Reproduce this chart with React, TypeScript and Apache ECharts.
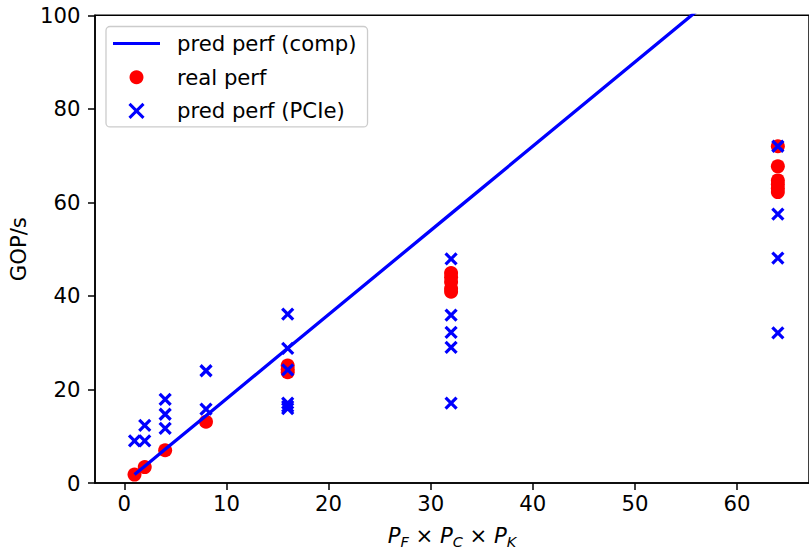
import React, { useEffect, useRef } from "react";
import * as echarts from "echarts";

// ---- data ----
const predCompX = [1, 2, 4, 8, 16, 32, 64];
const predCompY = [1.8, 3.6, 7.2, 14.4, 28.8, 57.6, 115.2];

const realX = [1, 2, 4, 8, 16, 16, 16, 32, 32, 32, 32, 32, 64, 64, 64, 64, 64, 64];
const realY = [1.8, 3.4, 7.0, 13.1, 25.1, 24.3, 23.7, 44.9, 44.0, 43.0, 41.6, 40.9, 72.0, 67.7, 64.7, 63.9, 63.0, 62.2];

const pcieX = [1, 2, 2, 4, 4, 4, 8, 8, 16, 16, 16, 16, 16, 16, 32, 32, 32, 32, 32, 64, 64, 64, 64];
const pcieY = [9.0, 12.3, 9.0, 17.9, 14.7, 11.7, 24.0, 15.8, 36.1, 28.8, 24.2, 17.1, 16.4, 15.9, 47.9, 35.9, 32.2, 29.0, 17.1, 72.0, 57.5, 48.1, 32.1];

const xTicks = [0, 10, 20, 30, 40, 50, 60];
const yTicks = [0, 20, 40, 60, 80, 100];

const seriesNames = ["pred perf (comp)", "real perf", "pred perf (PCIe)"];

const FONT = "DejaVu Sans";
const FS = 21.2;
const CROSS = "path://M0,0L10,10M10,0L0,10";

export default function App() {
  const ref = useRef<HTMLDivElement>(null);
  useEffect(() => {
    if (!ref.current) return;
    const chart = echarts.init(ref.current, undefined, { renderer: "svg" });
    const zip = (xs: number[], ys: number[]) => xs.map((x, i) => [x, ys[i]]);
    chart.setOption({
      animation: false,
      backgroundColor: "#ffffff",
      textStyle: { fontFamily: FONT },
      grid: {
        left: 95,
        top: 15.3,
        width: 714.5,
        height: 469,
        show: true,
        borderColor: "#000",
        borderWidth: 1.5,
        backgroundColor: "transparent",
      },
      legend: {
        orient: "vertical",
        left: 106,
        top: 26.5,
        padding: [6, 11, 5, 7],
        itemGap: 11.7,
        itemWidth: 47,
        itemHeight: 14,
        selectedMode: false,
        borderColor: "#cccccc",
        borderWidth: 1.3,
        borderRadius: 4,
        backgroundColor: "rgba(255,255,255,0.8)",
        textStyle: {
          fontFamily: FONT,
          fontSize: FS,
          color: "#000",
          lineHeight: 22,
          padding: [0, 0, 0, 12],
        },
        data: [
          { name: seriesNames[0], icon: "path://M0,0H47V3.2H0Z", itemStyle: { color: "#0000ff", borderWidth: 0 } },
          { name: seriesNames[1], icon: "circle", itemStyle: { color: "#ff0000", borderWidth: 0 } },
          {
            name: seriesNames[2],
            icon: CROSS,
            itemStyle: { color: "#0000ff", borderColor: "#0000ff", borderWidth: 3 },
          },
        ],
      },
      xAxis: {
        type: "value",
        min: -2.87,
        max: 67.05,
        name: "{i|P}{s|F}{n| × }{i|P}{s|C}{n| × }{i|P}{s|K}",
        nameLocation: "middle",
        nameGap: 39,
        nameTextStyle: {
          fontFamily: FONT,
          color: "#000",
          rich: {
            i: { fontFamily: FONT, fontSize: FS, fontStyle: "italic", color: "#000" },
            n: { fontFamily: FONT, fontSize: FS, color: "#000" },
            s: { fontFamily: FONT, fontSize: 14.5, fontStyle: "italic", color: "#000", padding: [12, 0, 0, 0] },
          },
        },
        axisLine: { show: true, onZero: false, lineStyle: { color: "#000", width: 1.5 } },
        axisTick: {
          show: true,
          inside: false,
          length: 7,
          customValues: xTicks,
          lineStyle: { color: "#000", width: 1.5 },
        },
        axisLabel: {
          customValues: xTicks,
          fontFamily: FONT,
          fontSize: FS,
          color: "#000",
          margin: 10,
        },
        splitLine: { show: false },
      },
      yAxis: {
        type: "value",
        min: 0,
        max: 100,
        interval: 20,
        name: "GOP/s",
        nameLocation: "middle",
        nameGap: 66,
        nameTextStyle: { fontFamily: FONT, fontSize: FS, color: "#000" },
        axisLine: { show: true, onZero: false, lineStyle: { color: "#000", width: 1.5 } },
        axisTick: {
          show: true,
          inside: false,
          length: 7,
          customValues: yTicks,
          lineStyle: { color: "#000", width: 1.5 },
        },
        axisLabel: {
          customValues: yTicks,
          fontFamily: FONT,
          fontSize: FS,
          color: "#000",
          margin: 14.5,
        },
        splitLine: { show: false },
      },
      series: [
        {
          name: seriesNames[1],
          type: "scatter",
          z: 2,
          symbol: "circle",
          symbolSize: 14,
          itemStyle: { color: "#ff0000", opacity: 1 },
          data: zip(realX, realY),
        },
        {
          name: seriesNames[2],
          type: "scatter",
          z: 3,
          symbol: CROSS,
          symbolSize: 11,
          itemStyle: { color: "#0000ff", borderColor: "#0000ff", borderWidth: 3.2, opacity: 1 },
          data: zip(pcieX, pcieY),
        },
        {
          name: seriesNames[0],
          type: "line",
          z: 4,
          showSymbol: false,
          symbol: "none",
          clip: true,
          lineStyle: { color: "#0000ff", width: 3.3 },
          itemStyle: { color: "#0000ff" },
          data: zip(predCompX, predCompY),
        },
      ],
    });
    return () => chart.dispose();
  }, []);
  return (
    <div
      ref={ref}
      style={{ position: "fixed", left: 0, top: 0, width: 809, height: 554, background: "#fff" }}
    />
  );
}
